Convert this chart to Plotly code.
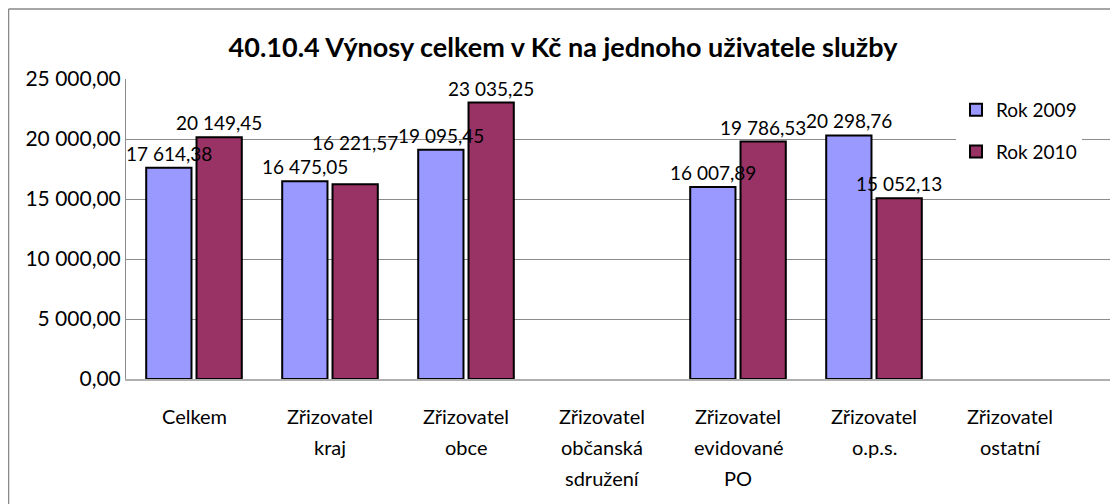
import plotly.graph_objects as go

categories = [
    "Celkem",
    "Zřizovatel\nkraj",
    "Zřizovatel\nobce",
    "Zřizovatel\nobčanská\nsdružení",
    "Zřizovatel\nevidované\nPO",
    "Zřizovatel\no.p.s.",
    "Zřizovatel\nostatní",
]
rok_2009 = [17614.38, 16475.05, 19095.45, None, 16007.89, 20298.76, None]
rok_2010 = [20149.45, 16221.57, 23035.25, None, 19786.53, 15052.13, None]
series_names = ["Rok 2009", "Rok 2010"]
title_text = "40.10.4 Výnosy celkem v Kč na jednoho uživatele služby"

FONT = "Lato"
colors = ["#9999FF", "#993366"]
Y_MAX = 25000

# page body has an 8px margin: figure is sized/margined so the plot area
# lands at x 126..1112, y 79..379 on screen
W, H = 1110, 496
ML, MR, MT, MB = 118, 6, 71, 125
PW, PH = W - ML - MR, H - MT - MB
CAT_PX = 136.0                      # width of one category slot
X_RANGE = [-0.5, -0.5 + PW / CAT_PX]
BARGAP, GROUPGAP = 0.26, 0.1

fig = go.Figure()
for name, vals, col, grp in zip(series_names, [rok_2009, rok_2010], colors, ["a", "b"]):
    fig.add_trace(go.Bar(
        x=categories, y=vals, name=name, legendgroup=grp,
        marker=dict(color=col, line=dict(color="#000000", width=2)),
        cliponaxis=False,
    ))

def fmt(v):
    return f"{v:,.2f}".replace(",", " ").replace(".", ",")

# value labels drawn above all bars
px_per_unit = PH / Y_MAX
slot = CAT_PX * (1 - BARGAP) / 2
LABEL_H = 24
for cat, a, b in zip(categories, rok_2009, rok_2010):
    if a is None or b is None:
        continue
    shifts = [-slot / 2, slot / 2]
    ys = [a, b]
    extra = [0, 0]
    if abs(a - b) * px_per_unit < LABEL_H:
        lo = 0 if a < b else 1
        hi = 1 - lo
        ys[lo] = ys[hi]
        extra[lo] = LABEL_H
    for v, yv, xs, ex in zip([a, b], ys, shifts, extra):
        fig.add_annotation(
            x=cat, xref="x", y=yv, yref="y", yanchor="bottom",
            xshift=xs, yshift=1 + ex, text=fmt(v), showarrow=False,
            font=dict(family=FONT, size=19, color="#000000"),
        )

# category labels, one line each for Excel-like spacing
for cat in categories:
    for k, line in enumerate(cat.split("\n")):
        fig.add_annotation(
            x=cat, xref="x", y=0, yref="paper", yanchor="middle",
            yshift=-37 - 31 * k, text=line, showarrow=False,
            font=dict(family=FONT, size=20, color="#000000"),
        )

# outer chart border (top and left edges visible)
top_y = (PH + MT - 1) / PH
left_x = -(ML - 0.5) / PW
fig.add_shape(type="line", xref="paper", yref="paper",
              x0=left_x, x1=(W - ML - 5) / PW, y0=top_y, y1=top_y,
              line=dict(color="#888888", width=1.5), layer="below")
fig.add_shape(type="line", xref="paper", yref="paper",
              x0=left_x, x1=left_x, y0=top_y, y1=-(MB + 20) / PH,
              line=dict(color="#888888", width=1.5), layer="below")

fig.update_layout(
    width=W, height=H,
    margin=dict(l=ML, r=MR, t=MT, b=MB),
    paper_bgcolor="white", plot_bgcolor="white",
    separators=", ",
    barmode="group", bargap=BARGAP, bargroupgap=GROUPGAP,
    title=dict(text="<b>" + title_text + "</b>", x=0.5, xanchor="center",
               y=1 - 40 / H, yanchor="middle",
               font=dict(family=FONT, size=27, color="#000000")),
    showlegend=True,
    legend=dict(x=(1082 - 126) / PW, xanchor="right", y=(PH - 12) / PH, yanchor="top",
                bgcolor="white", tracegroupgap=14,
                font=dict(family=FONT, size=19, color="#000000")),
    xaxis=dict(showticklabels=False, showline=True, linecolor="#b0b0b0", linewidth=2,
               ticks="", showgrid=False, range=X_RANGE),
    yaxis=dict(range=[0, Y_MAX], dtick=5000, tickformat=",.2f",
               showgrid=True, gridcolor="#8c8c8c", gridwidth=1,
               showline=True, linecolor="#8c8c8c", linewidth=1,
               ticks="", ticklen=0, zeroline=False,
               tickfont=dict(family=FONT, size=21, color="#000000")),
)

fig.write_html("out.html")
